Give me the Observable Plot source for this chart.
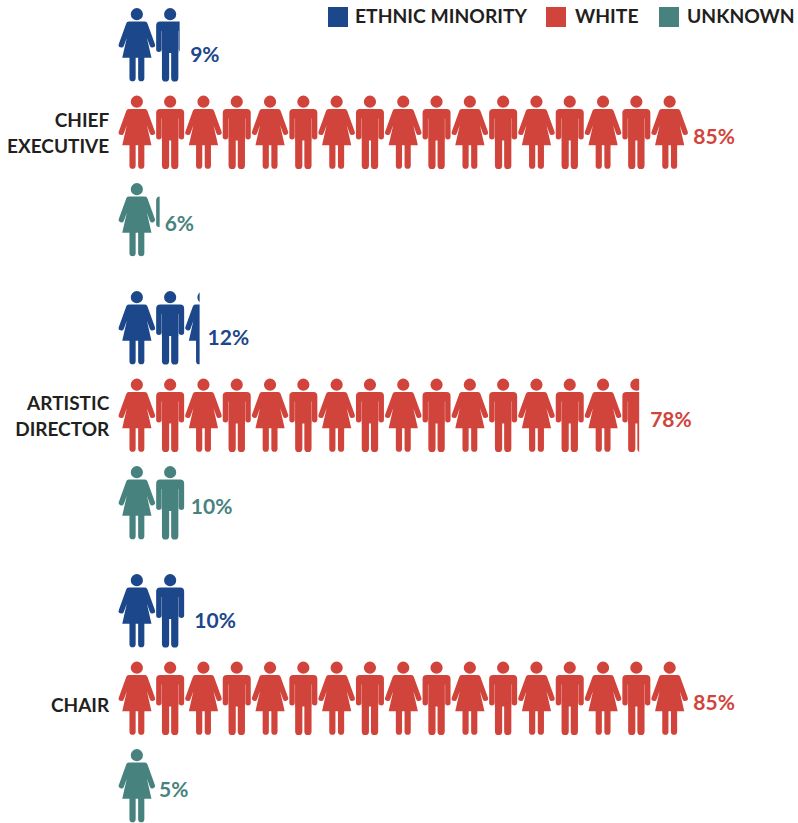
<!DOCTYPE html>
<html>
<head>
<meta charset="utf-8">
<script src="https://cdn.jsdelivr.net/npm/d3@7"></script>
<script src="https://cdn.jsdelivr.net/npm/@observablehq/plot@0.6"></script>
<style>
  html, body { margin: 0; padding: 0; background: #fff; }
  #chart { position: relative; width: 798px; height: 823px; overflow: hidden; }
  #chart svg { display: block; }
  #legend { position: absolute; top: 0; left: 0; font: 700 19.3px Lato, sans-serif; color: #231f20; }
  .item { position: absolute; top: 6px; white-space: nowrap; line-height: 20px; }
  .swatch { position: absolute; left: 0; top: 1px; width: 20px; height: 20px; }
  .name { position: absolute; top: 0; }
</style>
</head>
<body>
<div id="chart"></div>
<script>
const roles = ["CHIEF\nEXECUTIVE", "ARTISTIC\nDIRECTOR", "CHAIR"];
const categories = ["ETHNIC MINORITY", "WHITE", "UNKNOWN"];
const ethnicMinority = [9, 12, 10];
const white = [85, 78, 85];
const unknown = [6, 10, 5];
const perIcon = 5;

const colors = {"ETHNIC MINORITY": "#1c478a", "WHITE": "#d1443b", "UNKNOWN": "#48827f"};
const seriesByCategory = {"ETHNIC MINORITY": ethnicMinority, "WHITE": white, "UNKNOWN": unknown};
const font = "Lato, sans-serif";

// label nudges, per category then role, in pixels
const labelDx = {"ETHNIC MINORITY": [10.5, 8, 8], "WHITE": [7.5, 11, 7.5], "UNKNOWN": [5, 4.5, 6]};
const labelDy = {"ETHNIC MINORITY": 10, "WHITE": 5, "UNKNOWN": 4};

// Pictogram glyphs as d3-symbol-style draw functions
function capsule(c, x1, y1, x2, y2, r) {
  const a = Math.atan2(y2 - y1, x2 - x1), h = Math.PI / 2;
  c.moveTo(x2 + r * Math.cos(a - h), y2 + r * Math.sin(a - h));
  c.arc(x2, y2, r, a - h, a + h);
  c.lineTo(x1 + r * Math.cos(a + h), y1 + r * Math.sin(a + h));
  c.arc(x1, y1, r, a + h, a + 3 * h);
  c.closePath();
}
function poly(c, pts) {
  pts.forEach(([x, y], i) => (i ? c.lineTo(x, y) : c.moveTo(x, y)));
  c.closePath();
}
const ox = 0.5;
const female = {draw(c) {
  c.moveTo(ox + 6.1, -30.8); c.arc(ox, -30.8, 6.1, 0, 2 * Math.PI); c.closePath();
  poly(c, [[ox - 7.5, -23.6], [ox + 7.5, -23.6], [ox + 8.6, -13.8], [ox + 14.6, 12.8], [ox - 14.6, 12.8], [ox - 8.6, -13.8]]);
  capsule(c, ox - 8.0, -20.8, ox - 15.5, -0.2, 2.7);
  capsule(c, ox + 8.0, -20.8, ox + 15.5, -0.2, 2.7);
  capsule(c, ox - 4.3, 10, ox - 4.3, 33.2, 3.1);
  capsule(c, ox + 4.4, 10, ox + 4.4, 33.2, 3.1);
}};
const male = {draw(c) {
  c.moveTo(ox + 6.1, -30.8); c.arc(ox, -30.8, 6.1, 0, 2 * Math.PI); c.closePath();
  c.moveTo(ox - 10, -23.4);
  c.lineTo(ox + 10, -23.4);
  c.arc(ox + 10, -19.4, 4, -Math.PI / 2, 0);
  c.lineTo(ox + 14, -14);
  c.lineTo(ox - 14, -14);
  c.lineTo(ox - 14, -19.4);
  c.arc(ox - 10, -19.4, 4, Math.PI, 1.5 * Math.PI);
  c.closePath();
  poly(c, [[ox - 8.3, -23], [ox + 8.3, -23], [ox + 8.3, 8], [ox - 8.3, 8]]);
  capsule(c, ox - 11.3, -17, ox - 11.3, 4.2, 2.7);
  capsule(c, ox + 11.3, -17, ox + 11.3, 4.2, 2.7);
  capsule(c, ox - 4.6, 2, ox - 4.6, 32.9, 3.6);
  capsule(c, ox + 4.6, 2, ox + 4.6, 32.9, 3.6);
}};

const rows = categories.flatMap(cat => roles.map((role, r) => ({
  role, cat, r, pct: seriesByCategory[cat][r]
})));

let clipId = 0;
function clipTo(pct) {
  return (index, scales, values, dimensions, context, next) => {
    const g = next(index, scales, values, dimensions, context);
    if (pct % perIcon === 0) return g;
    const id = `row-clip-${clipId++}`;
    const ns = "http://www.w3.org/2000/svg";
    const cp = document.createElementNS(ns, "clipPath");
    cp.setAttribute("id", id);
    const rect = document.createElementNS(ns, "rect");
    rect.setAttribute("x", 0);
    rect.setAttribute("y", -200);
    rect.setAttribute("width", scales.x(pct));
    rect.setAttribute("height", 600);
    cp.appendChild(rect);
    g.appendChild(cp);
    g.setAttribute("clip-path", `url(#${id})`);
    return g;
  };
}

const iconMarks = rows.flatMap(row => {
  const icons = d3.range(Math.ceil(row.pct / perIcon)).map(i => ({...row, x: (i + 0.5) * perIcon, i}));
  return [[female, 0], [male, 1]].map(([symbol, odd]) =>
    Plot.dot(icons.filter(d => d.i % 2 === odd), {
      x: "x", y: "cat", fy: "role", symbol, fill: colors[row.cat], stroke: "none",
      render: clipTo(row.pct)
    }));
});

const labelMarks = rows.map(row => Plot.text([row], {
  x: "pct", y: "cat", fy: "role",
  text: d => d.pct + "%",
  textAnchor: "start",
  dx: labelDx[row.cat][row.r], dy: labelDy[row.cat],
  fill: colors[row.cat], fontSize: 21, fontWeight: 700, fontFamily: font
}));

const roleData = roles.map(role => ({role, cat: "WHITE"}));
const roleMarks = roleData.map(d => Plot.text([d], {
  x: () => 0, y: "cat", fy: "role", text: "role",
  textAnchor: "end", lineAnchor: "middle", lineHeight: 26 / 19,
  dx: -10.5, dy: d.role.includes("\n") ? -0.5 : 5.5,
  fill: "#231f20", fontSize: 19, fontWeight: 700, fontFamily: font
}));

const plot = Plot.plot({
  width: 798, height: 823,
  marginTop: 44.5, marginBottom: 37.5, marginLeft: 0, marginRight: 0,
  x: {domain: [0, 100], range: [119.2, 785.2], axis: null},
  y: {type: "point", domain: categories, axis: null, padding: 0, round: false},
  fy: {domain: roles, axis: null, paddingInner: 108 / 283, paddingOuter: 0, round: false},
  style: {background: "#fff"},
  marks: [...iconMarks, ...labelMarks, ...roleMarks]
});
const chart = document.getElementById("chart");
chart.appendChild(plot);

// Legend, overlaid at the top right
const legendLeft = [328, 546, 659];
const legendText = [27, 29, 28];
const legend = document.createElement("div");
legend.id = "legend";
categories.forEach((cat, i) => {
  const item = document.createElement("div");
  item.className = "item";
  item.style.left = legendLeft[i] + "px";
  const sw = document.createElement("span");
  sw.className = "swatch";
  sw.style.background = colors[cat];
  const nm = document.createElement("span");
  nm.className = "name";
  nm.style.left = legendText[i] + "px";
  nm.textContent = cat;
  item.append(sw, nm);
  legend.appendChild(item);
});
chart.appendChild(legend);
</script>
</body>
</html>
